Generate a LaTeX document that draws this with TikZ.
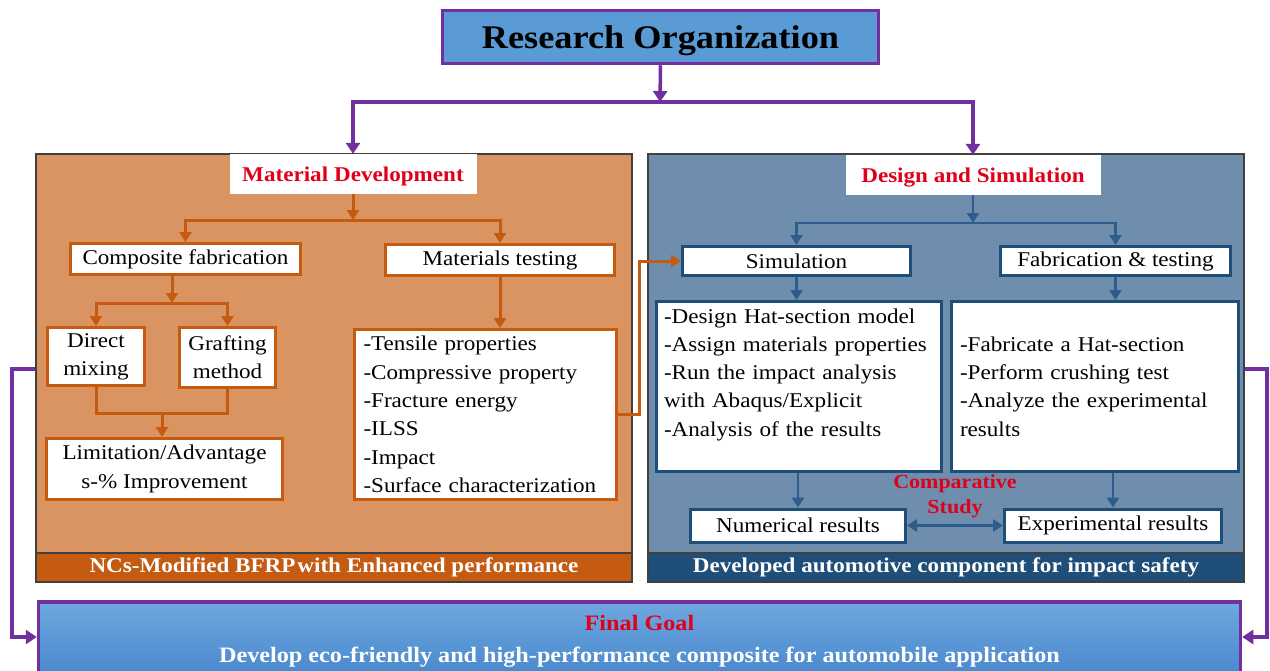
\documentclass[tikz,border=0pt]{standalone}
\usepackage{fontspec}
\setmainfont{Liberation Serif}[FakeStretch=1.1]
\usetikzlibrary{positioning, arrows.meta}

\definecolor{purp}{HTML}{7030A0}
\definecolor{orgblue}{HTML}{5B9BD5}
\definecolor{matfill}{HTML}{D99462}
\definecolor{oline}{HTML}{C55A11}
\definecolor{desfill}{HTML}{6F8DAD}
\definecolor{bline}{HTML}{2E5C8C}
\definecolor{bbord}{HTML}{1F4E79}
\definecolor{headred}{HTML}{E0001B}
\definecolor{goaltop}{HTML}{6EA8E0}
\definecolor{goalbot}{HTML}{4786CC}

\begin{document}
\begin{tikzpicture}[x=1pt, y=-1pt,
        bodytext/.style={font=\fontsize{21}{28.3}\selectfont},
        orgbox/.style={draw=purp, line width=3.5pt, fill=orgblue, minimum width=436, minimum height=53, text depth=0pt, font=\fontsize{33}{38}\selectfont\bfseries},
        panel/.style={draw=black!75, line width=1.2pt, minimum width=596, minimum height=428},
        band/.style={fill=#1, draw=black!75, line width=1.2pt, text=white, minimum width=596, minimum height=29, inner sep=0pt, font=\fontsize{21}{24}\selectfont\bfseries},
        headbox/.style={fill=white, text=headred, minimum height=40, inner sep=0pt, text depth=0pt, font=\fontsize{21}{24}\selectfont\bfseries},
        obox/.style={draw=oline, line width=3pt, fill=white, inner sep=0pt, bodytext, align=center},
        sbox/.style={draw=bbord, line width=3pt, fill=white, inner sep=0pt, bodytext, align=center},
        goalbox/.style={draw=purp, line width=3.5pt, top color=goaltop, bottom color=goalbot, minimum width=1202, minimum height=78, align=center, font=\fontsize{22}{32}\selectfont\bfseries},
        parrow/.style={draw=purp, line width=3.5pt, -{Triangle[width=14pt,length=11pt]}},
        oarrow/.style={draw=oline, line width=3pt, -{Triangle[width=12pt,length=10pt]}},
        barrow/.style={draw=bline, line width=2.5pt, -{Triangle[width=12pt,length=10pt]}}
    ]

    \useasboundingbox (0,0) rectangle (1270,670);

    % Top box
    \node[orgbox] (org) at (660.5,37) {Research Organization};

    % Two panels with their bottom bands
    \node[panel, fill=matfill] (matpanel) at (334,368) {};
    \node[panel, fill=desfill] (despanel) at (946,368) {};
    \node[band=oline] (matband) at (334,567.5) {NCs-Modified BFRP\hspace{2pt}with Enhanced performance};
    \node[band=bbord] (desband) at (946,567.5) {Developed automotive component for impact safety};

    % Panel headings
    \node[headbox, minimum width=247] (matdev) at (353,174) {Material\hspace{6pt}Development};
    \node[headbox, minimum width=255] (desim) at (973,175) {Design and Simulation};

    % Material development side
    \node[obox, minimum width=230, minimum height=31] (compfab) at (185.5,259) {Composite fabrication};
    \node[obox, minimum width=229, minimum height=31] (mattest) at (500,260) {Materials testing};
    \node[obox, minimum width=97, minimum height=58] (direct) at (96,356.5) {Direct\\mixing};
    \node[obox, minimum width=96, minimum height=60] (graft) at (227.5,357.5) {Grafting\\method};
    \node[obox, minimum width=236, minimum height=61] (limit) at (164.5,469) {Limitation/Advantage\\s-\% Improvement};
    \node[obox, minimum width=262, minimum height=170, text width=244, align=left] (tensile) at (485.5,414.5)
        {-Tensile properties\\-Compressive property\\-Fracture energy\\-ILSS\\-Impact\\-Surface characterization};

    % Design and simulation side
    \node[sbox, minimum width=228, minimum height=29] (sim) at (796.5,261) {Simulation};
    \node[sbox, minimum width=230, minimum height=29] (fabtest) at (1115.5,261) {Fabrication \& testing};
    \node[sbox, minimum width=285, minimum height=170, text width=270, align=left] (design) at (799,386.5)
        {-Design Hat-section model\\-Assign materials properties\\-Run the impact analysis\\with Abaqus/Explicit\\-Analysis of the results\\~};
    \node[sbox, minimum width=287, minimum height=170, text width=270, align=left] (fabbox) at (1095,386.5)
        {-Fabricate a Hat-section\\-Perform crushing test\\-Analyze the experimental\\results};
    \node[sbox, minimum width=215, minimum height=33] (numres) at (798,525.5) {Numerical results};
    \node[sbox, minimum width=217, minimum height=33] (expres) at (1113,525.5) {Experimental results};
    \node[text=headred, align=center, font=\fontsize{20}{25}\selectfont\bfseries] (cmp) at (955,496) {Comparative\\Study};

    % Final goal
    \node[goalbox] (goal) at (639.5,641) {\textcolor{headred}{Final Goal}\\\textcolor{white}{Develop eco-friendly and high-performance composite for automobile application}};

    % Purple connectors
    \coordinate (split) at (660,102);
    \draw[parrow] (org.south) -- (split);
    \draw[parrow] (split) -| (matdev.north);
    \draw[parrow] (split) -| (desim.north);
    \coordinate (lft) at (12,369);
    \coordinate (rgt) at (1267,369);
    \draw[parrow] (matpanel.west |- lft) -- (lft) |- ([yshift=4pt]goal.west);
    \draw[parrow] (despanel.east |- rgt) -- (rgt) |- ([yshift=4pt]goal.east);

    % Orange connectors
    \coordinate (mfork) at (353,220);
    \draw[oarrow] (matdev.south) -- (mfork);
    \draw[oarrow] (mfork) -| (compfab.north);
    \draw[oarrow] (mfork) -| (mattest.north);
    \coordinate (cfork) at (172,303);
    \draw[oarrow] (compfab.south -| cfork) -- (cfork);
    \draw[oarrow] (cfork) -| (direct.north);
    \draw[oarrow] (cfork) -| (graft.north);
    \coordinate (jn) at (162,413);
    \draw[oline, line width=3pt] (direct.south) |- (jn) -| (graft.south);
    \draw[oarrow] (jn) -- (limit.north -| jn);
    \draw[oarrow] (mattest.south) -- (mattest.south |- tensile.north);
    \draw[oarrow] (tensile.east) -- ++(21,0) |- (sim.west);

    % Blue connectors
    \coordinate (dfork) at (973,223);
    \draw[barrow] (desim.south) -- (dfork);
    \draw[barrow] (dfork) -| (sim.north);
    \draw[barrow] (dfork) -| (fabtest.north);
    \draw[barrow] (sim.south) -- (sim.south |- design.north);
    \draw[barrow] (fabtest.south) -- (fabtest.south |- fabbox.north);
    \draw[barrow] (numres.north |- design.south) -- (numres.north);
    \draw[barrow] (expres.north |- fabbox.south) -- (expres.north);
    \draw[barrow, {Triangle[width=12pt,length=10pt]}-{Triangle[width=12pt,length=10pt]}] (numres.east) -- (expres.west);

\end{tikzpicture}
\end{document}
